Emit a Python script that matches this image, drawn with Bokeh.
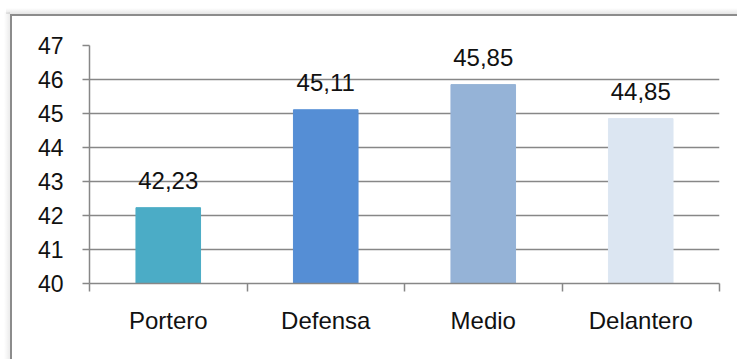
from bokeh.plotting import figure
from bokeh.models import FixedTicker, Range1d, ColumnDataSource, InlineStyleSheet
from bokeh.core.properties import value
from bokeh.embed import file_html
from bokeh.resources import INLINE

categories = ["Portero", "Defensa", "Medio", "Delantero"]
values = [42.23, 45.11, 45.85, 44.85]
value_labels = ["42,23", "45,11", "45,85", "44,85"]
colors = ["#4BACC6", "#558ED5", "#95B3D7", "#DCE6F2"]
y_ticks = [40, 41, 42, 43, 44, 45, 46, 47]

NUM_FONT = "Liberation Sans"
CAT_FONT = "Liberation Sans"
GRAY = "#878787"
TXT = "#111111"

xs = [i + 0.5 for i in range(len(categories))]
src = ColumnDataSource(dict(x=xs, top=values, lab=value_labels, color=colors))

p = figure(width=737, height=359, output_backend="svg", toolbar_location=None,
           x_range=Range1d(0, len(categories)), y_range=Range1d(40, 47),
           min_border_left=89, min_border_right=18, min_border_top=45, min_border_bottom=76)
p.background_fill_color = "white"
p.border_fill_color = None
p.outline_line_color = None

css = """
:host {
  background:
    linear-gradient(#8c8c8c, #8c8c8c) 10px 14px / 2px 420px no-repeat,
    linear-gradient(#8c8c8c, #8c8c8c) 10px 14px / 800px 2px no-repeat,
    linear-gradient(to bottom, rgba(0,0,0,0), rgba(0,0,0,0.10)) 6px 8px / 800px 6px no-repeat,
    linear-gradient(to right, rgba(0,0,0,0), rgba(0,0,0,0.08)) 4px 12px / 6px 420px no-repeat,
    #ffffff;
}
"""
p.stylesheets = [InlineStyleSheet(css=css)]

p.vbar(x="x", top="top", bottom=40, width=0.41, color="color", source=src)
p.text(x="x", y="top", text="lab", source=src, text_align="center", text_baseline="bottom",
       y_offset=-19, text_font=value(NUM_FONT), text_font_size="24px", text_color=TXT)

# y axis
p.yaxis.ticker = FixedTicker(ticks=y_ticks)
p.yaxis.axis_line_color = GRAY
p.yaxis.axis_line_width = 1.5
p.yaxis.major_tick_line_color = GRAY
p.yaxis.major_tick_line_width = 1.5
p.yaxis.major_tick_out = 7
p.yaxis.major_tick_in = 0
p.yaxis.minor_tick_line_color = None
p.yaxis.major_label_standoff = 19
p.yaxis.major_label_text_font = NUM_FONT
p.yaxis.major_label_text_font_size = "23px"
p.yaxis.major_label_text_color = TXT

# x axis: labels at centers, ticks at category boundaries (minor ticks)
p.xaxis.ticker = FixedTicker(ticks=xs, minor_ticks=list(range(len(categories) + 1)))
p.xaxis.major_label_overrides = {x: c for x, c in zip(xs, categories)}
p.xaxis.axis_line_color = GRAY
p.xaxis.axis_line_width = 1.5
p.xaxis.major_tick_line_color = None
p.xaxis.minor_tick_line_color = GRAY
p.xaxis.minor_tick_line_width = 1.5
p.xaxis.minor_tick_out = 8
p.xaxis.minor_tick_in = 0
p.xaxis.major_tick_out = 0
p.xaxis.major_tick_in = 0
p.xaxis.major_label_standoff = 15
p.xaxis.major_label_text_font = CAT_FONT
p.xaxis.major_label_text_font_size = "24px"
p.xaxis.major_label_text_color = TXT

p.xgrid.grid_line_color = None
p.ygrid.grid_line_color = GRAY
p.ygrid.grid_line_width = 1.5

open("out.html", "w").write(file_html(p, INLINE))
